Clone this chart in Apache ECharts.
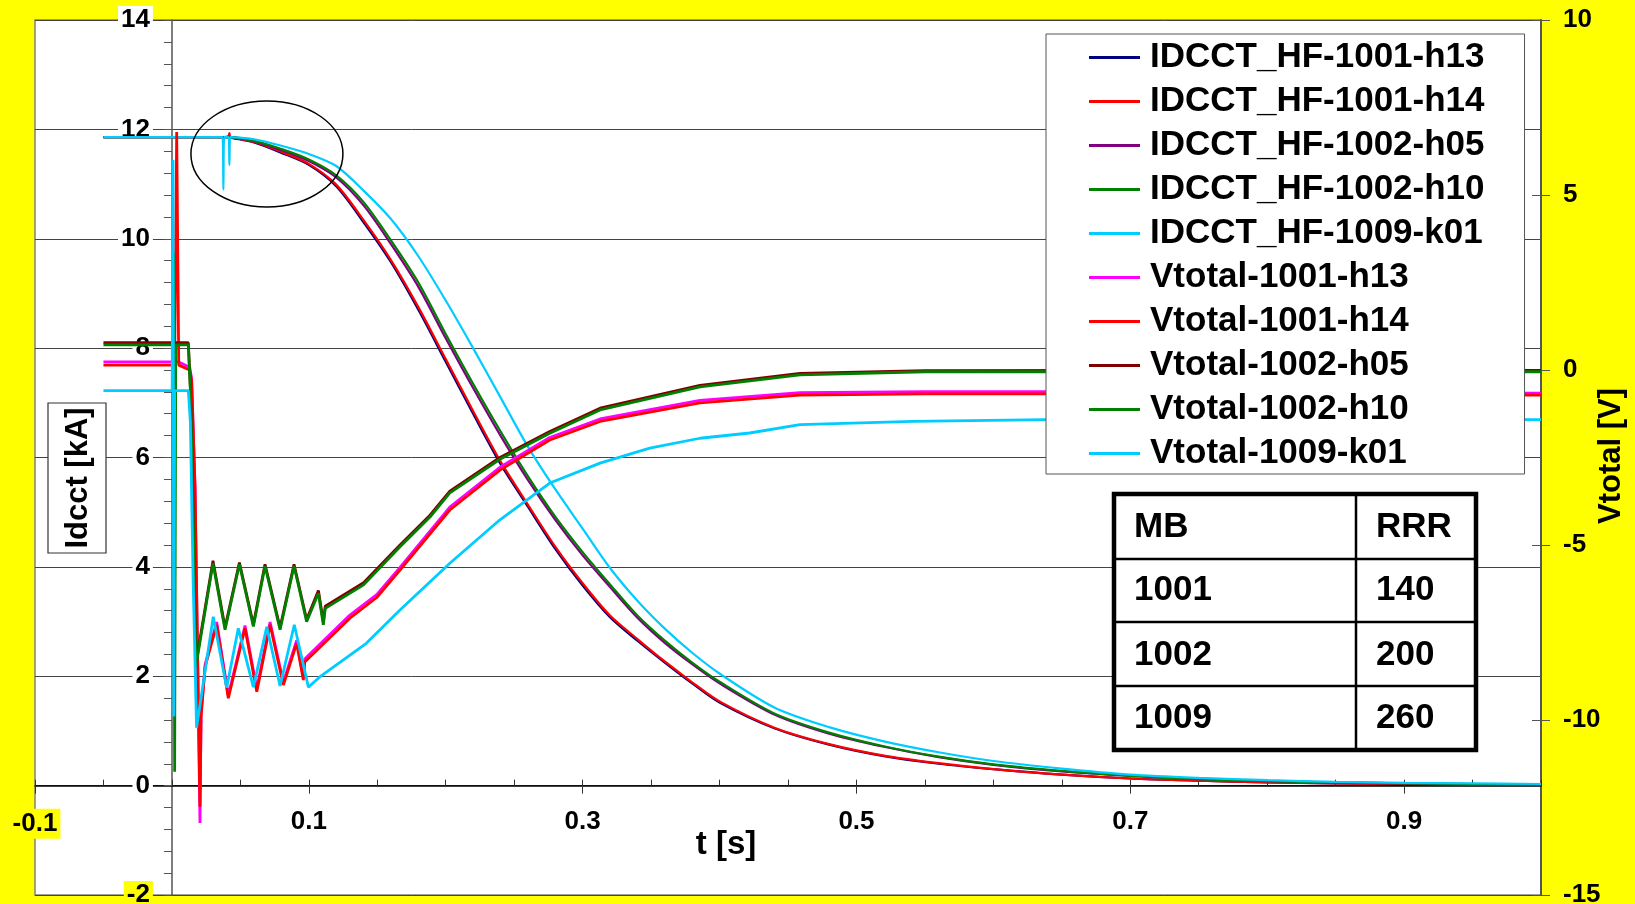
<!DOCTYPE html>
<html>
<head>
<meta charset="utf-8">
<script src="https://cdn.jsdelivr.net/npm/echarts/dist/echarts.min.js"></script>
<style>
html, body { margin: 0; padding: 0; background: #ffff00; }
#main { width: 1635px; height: 904px; }
</style>
</head>
<body>
<div id="main"></div>
<script>
// Quench current decay (Idcct, kA) and total voltage (Vtotal, V) for three magnets

var FONT = "'Liberation Sans', Arial, Helvetica, sans-serif";

var xTickLabels = [-0.1, 0.1, 0.3, 0.5, 0.7, 0.9];

var seriesNames = [
  'IDCCT_HF-1001-h13', 'IDCCT_HF-1001-h14', 'IDCCT_HF-1002-h05', 'IDCCT_HF-1002-h10', 'IDCCT_HF-1009-k01',
  'Vtotal-1001-h13', 'Vtotal-1001-h14', 'Vtotal-1002-h05', 'Vtotal-1002-h10', 'Vtotal-1009-k01'
];
var seriesColors = ['#000080', '#ff0000', '#800080', '#008000', '#00ccff',
                    '#ff00ff', '#ff0000', '#800000', '#008000', '#00ccff'];

// current, left axis [kA]
var idcctTime = [-0.05, 0, 0.02, 0.037, 0.0376, 0.0382, 0.0414, 0.042, 0.0426,
  0.06, 0.08, 0.10, 0.12, 0.14, 0.16, 0.18, 0.20, 0.22, 0.24, 0.26, 0.28, 0.30, 0.32, 0.34, 0.36, 0.38, 0.40,
  0.44, 0.48, 0.52, 0.56, 0.60,
  0.65, 0.70, 0.75, 0.80, 0.85, 0.90, 0.95, 1.00];
var idcct1001h13 = [11.86, 11.86, 11.86, 11.86, 11.86, 11.86, 11.86, 11.86, 11.85,
  11.76, 11.57, 11.35, 10.96, 10.30, 9.57, 8.70, 7.75, 6.80, 5.88, 5.10, 4.33, 3.66, 3.08, 2.65, 2.25, 1.87, 1.52,
  1.05, 0.75, 0.54, 0.40, 0.30,
  0.20, 0.13, 0.09, 0.06, 0.04, 0.03, 0.02, 0.02];
var idcct1001h14 = [11.86, 11.86, 11.86, 11.86, 11.86, 11.86, 11.88, 11.93, 11.87,
  11.77, 11.59, 11.37, 10.99, 10.34, 9.61, 8.75, 7.80, 6.85, 5.93, 5.14, 4.37, 3.70, 3.11, 2.68, 2.27, 1.89, 1.54,
  1.06, 0.76, 0.55, 0.41, 0.30,
  0.20, 0.13, 0.09, 0.06, 0.04, 0.03, 0.02, 0.02];
var idcct1002h05 = [11.86, 11.86, 11.86, 11.86, 11.86, 11.86, 11.86, 11.86, 11.86,
  11.78, 11.62, 11.42, 11.12, 10.61, 9.90, 9.12, 8.18, 7.27, 6.40, 5.59, 4.86, 4.21, 3.63, 3.07, 2.61, 2.22, 1.87,
  1.30, 0.95, 0.71, 0.52, 0.38,
  0.26, 0.18, 0.12, 0.08, 0.06, 0.04, 0.03, 0.02];
var idcct1002h10 = [11.86, 11.86, 11.86, 11.86, 11.86, 11.86, 11.86, 11.86, 11.86,
  11.79, 11.64, 11.45, 11.16, 10.67, 9.97, 9.20, 8.26, 7.35, 6.48, 5.66, 4.92, 4.27, 3.68, 3.11, 2.65, 2.25, 1.90,
  1.32, 0.97, 0.72, 0.53, 0.39,
  0.27, 0.18, 0.12, 0.08, 0.06, 0.04, 0.03, 0.02];
var idcct1009k01 = [11.86, 11.86, 11.86, 11.86, 10.90, 11.86, 11.86, 11.35, 11.86,
  11.82, 11.70, 11.55, 11.33, 10.88, 10.36, 9.68, 8.87, 8.00, 7.10, 6.20, 5.42, 4.70, 3.98, 3.38, 2.87, 2.43, 2.05,
  1.43, 1.07, 0.81, 0.61, 0.45,
  0.31, 0.20, 0.14, 0.10, 0.07, 0.05, 0.04, 0.03];

// voltage, right axis [V]
var vt1001Time = [-0.05, 0.002, 0.0035, 0.005, 0.013, 0.0144, 0.0169, 0.0205, 0.0213, 0.0243, 0.0327, 0.0412,
  0.0534, 0.062, 0.0717, 0.0814, 0.0911, 0.096, 0.097, 0.13, 0.1496, 0.1666, 0.203, 0.2396, 0.276, 0.3127,
  0.3857, 0.4587, 0.55, 0.70, 0.85, 1.00];
var vt1001h13 = [0.23, 0.23, 0.23, 0.23, 0.08, -0.25, -3.4, -12.94, -9.8, -8.4, -7.2, -9.3,
  -7.3, -9.1, -7.2, -8.92, -7.73, -8.78, -8.26, -7.0, -6.42, -5.64, -3.92, -2.78, -1.93, -1.4,
  -0.87, -0.65, -0.62, -0.62, -0.64, -0.66];
var vt1001h14 = [0.14, 0.14, 6.8, 0.14, 0.0, -0.31, -3.33, -12.48, -9.91, -8.47, -7.28, -9.38,
  -7.38, -9.19, -7.28, -9.0, -7.81, -8.86, -8.34, -7.09, -6.5, -5.72, -4.0, -2.86, -2.0, -1.47,
  -0.94, -0.72, -0.68, -0.68, -0.70, -0.72];

var vt1002Time = [-0.05, 0.0005, 0.0012, 0.002, 0.0028, 0.012, 0.0135, 0.015, 0.0175, 0.030, 0.0388, 0.0493,
  0.0595, 0.068, 0.079, 0.0892, 0.0984, 0.107, 0.1106, 0.112, 0.14, 0.1666, 0.1885, 0.203, 0.2396, 0.276,
  0.3127, 0.3857, 0.4587, 0.55, 0.70, 0.85, 1.00];
var vt1002h05 = [0.78, 0.78, 0.78, 0.78, 0.78, 0.78, -0.5, -3.0, -8.4, -5.45, -7.36, -5.5,
  -7.27, -5.55, -7.36, -5.55, -7.13, -6.3, -7.2, -6.75, -6.08, -5.0, -4.15, -3.46, -2.5, -1.76,
  -1.09, -0.44, -0.1, -0.02, -0.01, 0.0, -0.01];
var vt1002h10 = [0.72, 0.72, 3.35, -11.48, 0.72, 0.72, -0.6, -3.1, -8.48, -5.52, -7.42, -5.55,
  -7.33, -5.6, -7.42, -5.6, -7.19, -6.38, -7.28, -6.81, -6.14, -5.05, -4.2, -3.51, -2.55, -1.81,
  -1.14, -0.48, -0.14, -0.05, -0.05, -0.04, -0.05];

var vt1009Time = [-0.05, 0.0002, 0.0008, 0.0014, 0.002, 0.012, 0.0135, 0.0155, 0.018, 0.0302, 0.040, 0.0485,
  0.0595, 0.0693, 0.079, 0.0894, 0.0997, 0.108, 0.142, 0.1666, 0.203, 0.2396, 0.276, 0.3127,
  0.349, 0.3857, 0.422, 0.4587, 0.541, 0.639, 0.80, 1.00];
var vt1009k01 = [-0.59, -0.59, 6.0, -9.9, -0.59, -0.59, -1.5, -6.0, -10.22, -7.05, -9.08, -7.38,
  -9.06, -7.34, -9.03, -7.28, -9.06, -8.77, -7.81, -6.86, -5.52, -4.28, -3.23, -2.66,
  -2.23, -1.95, -1.8, -1.56, -1.47, -1.42, -1.42, -1.42];

// inset table
var tableHeader = ['MB', 'RRR'];
var tableMB = ['1001', '1002', '1009'];
var tableRRR = ['140', '200', '260'];

function pairs(t, v) {
  return t.map(function (x, i) { return [x, v[i]]; });
}

var seriesData = [
  pairs(idcctTime, idcct1001h13), pairs(idcctTime, idcct1001h14), pairs(idcctTime, idcct1002h05),
  pairs(idcctTime, idcct1002h10), pairs(idcctTime, idcct1009k01),
  pairs(vt1001Time, vt1001h13), pairs(vt1001Time, vt1001h14), pairs(vt1002Time, vt1002h05),
  pairs(vt1002Time, vt1002h10), pairs(vt1009Time, vt1009k01)
];

var series = seriesData.map(function (d, i) {
  var isV = i >= 5;
  return {
    name: seriesNames[i],
    type: 'line',
    data: d,
    xAxisIndex: 0,
    yAxisIndex: isV ? 1 : 0,
    showSymbol: false,
    symbol: 'none',
    smooth: isV ? false : 0.3,
    lineStyle: { color: seriesColors[i], width: isV ? 2.8 : 2.2 },
    itemStyle: { color: seriesColors[i] },
    emphasis: { disabled: true },
    animation: false
  };
});

// plot box and axis ranges; the left axis sits at t = 0, the time axis at I = 0
var W = 1635, H = 904;
var G = { left: 35, right: 94, top: 20, bottom: 9 };
var xMin = -0.1, xMax = 1.0, yMin = -2, yMax = 14;
var yAxisShift = (W - G.left - G.right) * (0 - xMin) / (xMax - xMin);
var xAxisShift = (H - G.top - G.bottom) * (0 - yMin) / (yMax - yMin);

var lbl = { fontSize: 26, fontWeight: 'bold', fontFamily: FONT, color: '#000' };

var myChart = echarts.init(document.getElementById('main'));
myChart.setOption({
  backgroundColor: '#ffff00',
  animation: false,
  grid: {
    left: G.left, right: G.right, top: G.top, bottom: G.bottom,
    show: true, backgroundColor: '#ffffff', borderColor: '#808080', borderWidth: 1.5,
    containLabel: false, outerBoundsMode: 'none'
  },
  legend: {
    data: seriesNames,
    orient: 'vertical',
    left: 1046, top: 34,
    padding: [6, 40, 3, 43],
    itemGap: 9, itemWidth: 51, itemHeight: 3,
    icon: 'rect',
    backgroundColor: '#ffffff', borderColor: '#555', borderWidth: 1,
    selectedMode: false,
    textStyle: { fontSize: 35, fontWeight: 'bold', fontFamily: FONT, color: '#000', padding: [0, 0, 0, 5] }
  },
  xAxis: [{
    type: 'value', position: 'bottom', min: xMin, max: xMax, interval: 0.05, offset: -xAxisShift,
    axisLine: { show: true, onZero: false, lineStyle: { color: '#000', width: 1.5 } },
    axisTick: { show: true, inside: true, length: 6, lineStyle: { color: '#333', width: 1 } },
    axisLabel: {
      customValues: xTickLabels, margin: 23,
      fontSize: 26, fontWeight: 'bold', fontFamily: FONT, color: '#000',
      formatter: function (v) {
        var s = (Math.round(v * 10) / 10).toFixed(1);
        return v < 0 ? '{y|' + s + '}' : s;
      },
      rich: { y: Object.assign({ backgroundColor: '#ffff00', padding: [2, 3, 2, 3] }, lbl) }
    },
    splitLine: { show: false }
  }, {
    type: 'value', position: 'bottom', min: xMin, max: xMax, interval: 0.05, offset: -xAxisShift,
    axisLine: { show: false, onZero: false },
    axisTick: { show: true, inside: false, length: 8, customValues: xTickLabels, lineStyle: { color: '#333', width: 1 } },
    axisLabel: { show: false },
    splitLine: { show: false }
  }],
  yAxis: [{
    type: 'value', position: 'left', min: yMin, max: yMax, interval: 2, offset: -yAxisShift,
    axisLine: { show: true, onZero: false, lineStyle: { color: '#555', width: 1.5 } },
    axisTick: { show: true, inside: false, length: 8, lineStyle: { color: '#555', width: 1 } },
    minorTick: { show: true, splitNumber: 5, length: 8, lineStyle: { color: '#555', width: 1 } },
    axisLabel: {
      margin: 19,
      formatter: function (v) { return v === -2 ? '{y|' + v + '}' : '{w|' + v + '}'; },
      rich: {
        w: Object.assign({ backgroundColor: '#ffffff', padding: [1, 3, 1, 3] }, lbl),
        y: Object.assign({ backgroundColor: '#ffff00', padding: [1, 3, 1, 3] }, lbl)
      }
    },
    splitLine: { show: true, lineStyle: { color: '#444', width: 1 } }
  }, {
    type: 'value', position: 'right', min: -15, max: 10, interval: 5,
    axisLine: { show: true, onZero: false, lineStyle: { color: '#555', width: 2 } },
    axisTick: { show: true, inside: false, length: 9, lineStyle: { color: '#555', width: 1 } },
    axisLabel: Object.assign({ margin: 22 }, lbl),
    splitLine: { show: false }
  }, {
    type: 'value', position: 'right', min: -15, max: 10, interval: 5,
    axisLine: { show: false, onZero: false },
    axisTick: { show: true, inside: true, length: 9, lineStyle: { color: '#555', width: 1 } },
    axisLabel: { show: false },
    splitLine: { show: false }
  }],
  series: series
});

// annotations: axis titles, ellipse around the current plateau, RRR table
var ellC = myChart.convertToPixel({ xAxisIndex: 0, yAxisIndex: 0 }, [0.0694, 11.55]);
var tb = { x: 1114, y: 494, w: 362, h: 256, col: 1356, rows: [559, 622, 686] };
var rowMid = [527, 590, 655, 718];
var tableRows = [tableHeader].concat(tableMB.map(function (m, i) { return [m, tableRRR[i]]; }));

var graphics = [
  { type: 'rect', z: 100, shape: { x: 48, y: 403, width: 58, height: 150 },
    style: { fill: '#fff', stroke: '#333', lineWidth: 1.2 } },
  { type: 'text', z: 101, x: 78, y: 478, rotation: Math.PI / 2,
    style: { text: 'Idcct [kA]', font: 'bold 31px ' + FONT, fill: '#000', align: 'center', verticalAlign: 'middle' } },
  { type: 'text', z: 101, x: 1611, y: 456, rotation: Math.PI / 2,
    style: { text: 'Vtotal [V]', font: 'bold 31px ' + FONT, fill: '#000', align: 'center', verticalAlign: 'middle' } },
  { type: 'text', z: 101, x: 726, y: 845,
    style: { text: 't [s]', font: 'bold 33px ' + FONT, fill: '#000', align: 'center', verticalAlign: 'middle' } },
  { type: 'ellipse', z: 100, shape: { cx: ellC[0], cy: ellC[1], rx: 76, ry: 53 },
    style: { fill: 'none', stroke: '#000', lineWidth: 1.5 } },
  { type: 'rect', z: 100, shape: { x: tb.x, y: tb.y, width: tb.w, height: tb.h },
    style: { fill: '#fff', stroke: '#000', lineWidth: 4.5 } },
  { type: 'line', z: 101, shape: { x1: tb.col, y1: tb.y, x2: tb.col, y2: tb.y + tb.h },
    style: { stroke: '#000', lineWidth: 2.5 } }
];
tb.rows.forEach(function (ry) {
  graphics.push({ type: 'line', z: 101, shape: { x1: tb.x, y1: ry, x2: tb.x + tb.w, y2: ry },
    style: { stroke: '#000', lineWidth: 2.5 } });
});
tableRows.forEach(function (r, i) {
  graphics.push({ type: 'text', z: 102, x: 1134, y: rowMid[i],
    style: { text: r[0], font: 'bold 35px ' + FONT, fill: '#000', align: 'left', verticalAlign: 'middle' } });
  graphics.push({ type: 'text', z: 102, x: 1376, y: rowMid[i],
    style: { text: r[1], font: 'bold 35px ' + FONT, fill: '#000', align: 'left', verticalAlign: 'middle' } });
});

myChart.setOption({ graphic: graphics });
</script>
</body>
</html>
